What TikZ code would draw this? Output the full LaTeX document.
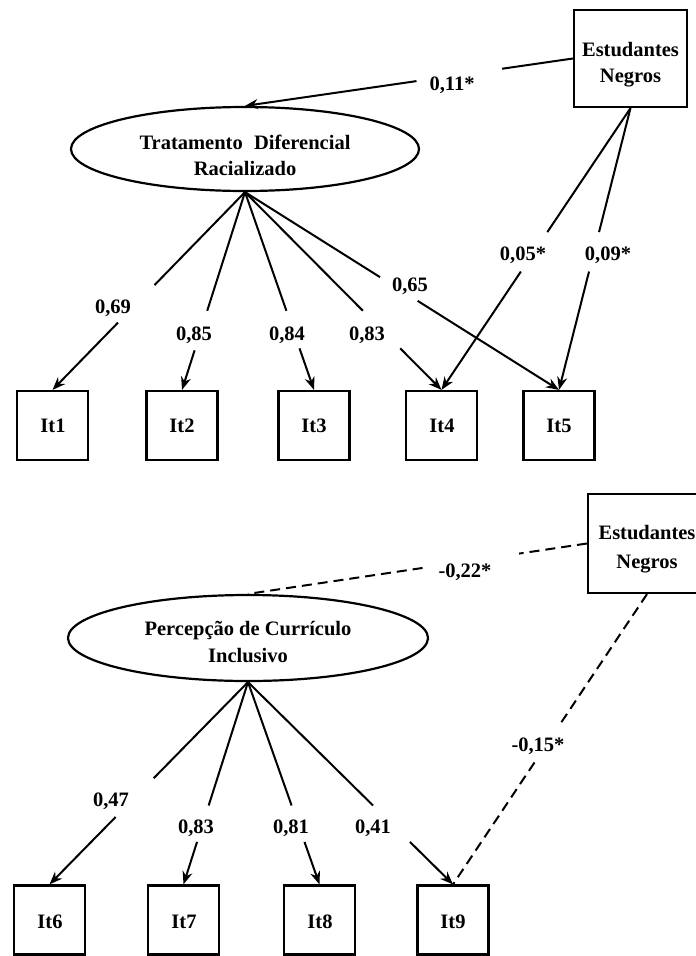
\documentclass[tikz,border=0pt]{standalone}
\usepackage{fontspec}
\setmainfont{Liberation Serif}
\usetikzlibrary{shapes.geometric,arrows.meta,calc}
\begin{document}
\begin{tikzpicture}[x=1pt,y=-1pt,
  font=\fontsize{20.5}{26}\selectfont\bfseries,
  obs/.style={draw,line width=2.2pt,rectangle,inner sep=0pt},
  item/.style={obs,minimum width=71pt,minimum height=69pt},
  latent/.style={draw,line width=2.2pt,ellipse,inner sep=0pt},
  lbl/.style={inner sep=0pt,text height=14pt,text depth=0pt},
  ln/.style={line width=2pt},
  arr/.style={line width=2pt,-{Stealth[length=13pt,width=10pt]}},
  dsh/.style={line width=2pt,dash pattern=on 10pt off 6pt}]
\useasboundingbox (0,0) rectangle (696,956);

% ---------- top model ----------
\node[obs,minimum width=113pt,minimum height=97pt] (en1) at (630.5,58.5) {};
\node[lbl] (en1a) at (630.5,49.5) {Estudantes};
\node[lbl] (en1b) at (630.5,75) {Negros};
\node[latent,minimum width=348pt,minimum height=84pt] (tdr) at (245,149) {};
\node[lbl] (tdra) at (245,142) {Tratamento\hspace{0.3em} Diferencial};
\node[lbl] (tdrb) at (245,168) {Racializado};

\node[item] (it1) at (52.5,425.5) {};
\node[item] (it2) at (182,425.5) {};
\node[item] (it3) at (314,425.5) {};
\node[item] (it4) at (441.5,425.5) {};
\node[item] (it5) at (559,425.5) {};
\node[lbl] (it1t) at (53,425) {It1};
\node[lbl] (it2t) at (182,425) {It2};
\node[lbl] (it3t) at (314,425) {It3};
\node[lbl] (it4t) at (442,425) {It4};
\node[lbl] (it5t) at (559,425) {It5};

% en1 -> tdr
\draw[ln] (en1.west) -- ($(en1.west)!0.216!(tdr.north)$);
\draw[arr] ($(en1.west)!0.477!(tdr.north)$) -- (tdr.north);
\node[lbl] (l011) at (452,83) {0,11*};

% loadings
\draw[ln] (tdr.south) -- ($(tdr.south)!0.47!(it1.north)$);
\draw[arr] ($(tdr.south)!0.66!(it1.north)$) -- (it1.north);
\draw[ln] (tdr.south) -- ($(tdr.south)!0.60!(it2.north)$);
\draw[arr] ($(tdr.south)!0.80!(it2.north)$) -- (it2.north);
\draw[ln] (tdr.south) -- ($(tdr.south)!0.60!(it3.north)$);
\draw[arr] ($(tdr.south)!0.79!(it3.north)$) -- (it3.north);
\draw[ln] (tdr.south) -- ($(tdr.south)!0.60!(it4.north)$);
\draw[arr] ($(tdr.south)!0.79!(it4.north)$) -- (it4.north);
\draw[ln] (tdr.south) -- ($(tdr.south)!0.43!(it5.north)$);
\draw[arr] ($(tdr.south)!0.55!(it5.north)$) -- (it5.north);
\node[lbl] (l069) at (113,306) {0,69};
\node[lbl] (l085) at (194,333) {0,85};
\node[lbl] (l084) at (287,333) {0,84};
\node[lbl] (l083) at (367,333) {0,83};
\node[lbl] (l065) at (410,284) {0,65};

% en1 -> items
\draw[ln] (en1.south) -- ($(en1.south)!0.44!(it4.north)$);
\draw[arr] ($(en1.south)!0.58!(it4.north)$) -- (it4.north);
\draw[ln] (en1.south) -- ($(en1.south)!0.44!(it5.north)$);
\draw[arr] ($(en1.south)!0.58!(it5.north)$) -- (it5.north);
\node[lbl] (l005) at (523,253) {0,05*};
\node[lbl] (l009) at (608,253) {0,09*};

% ---------- bottom model ----------
\node[obs,minimum width=118pt,minimum height=99pt] (en2) at (647,543.5) {};
\node[lbl] (en2a) at (647,532) {Estudantes};
\node[lbl] (en2b) at (647,561) {Negros};
\node[latent,minimum width=360pt,minimum height=86pt] (pci) at (248,638) {};
\node[lbl] (pcia) at (248,628.5) {Percepção de Currículo};
\node[lbl] (pcib) at (248,655) {Inclusivo};

\node[item] (it6) at (49.5,920) {};
\node[item] (it7) at (183.5,920) {};
\node[item] (it8) at (319.5,920) {};
\node[item] (it9) at (453,920) {};
\node[lbl] (it6t) at (50,921) {It6};
\node[lbl] (it7t) at (184,921) {It7};
\node[lbl] (it8t) at (320,921) {It8};
\node[lbl] (it9t) at (453,921) {It9};

\draw[dsh] (en2.west) -- ($(en2.west)!0.2!(pci.north)$);
\draw[dsh] ($(en2.west)!0.485!(pci.north)$) -- (pci.north);
\node[lbl] (l022) at (465,570) {-0,22*};

\draw[ln] (pci.south) -- ($(pci.south)!0.475!(it6.north)$);
\draw[arr] ($(pci.south)!0.667!(it6.north)$) -- (it6.north);
\draw[ln] (pci.south) -- ($(pci.south)!0.61!(it7.north)$);
\draw[arr] ($(pci.south)!0.79!(it7.north)$) -- (it7.north);
\draw[ln] (pci.south) -- ($(pci.south)!0.61!(it8.north)$);
\draw[arr] ($(pci.south)!0.79!(it8.north)$) -- (it8.north);
\draw[ln] (pci.south) -- ($(pci.south)!0.61!(it9.north)$);
\draw[arr] ($(pci.south)!0.79!(it9.north)$) -- (it9.north);
\node[lbl] (l047) at (111,799) {0,47};
\node[lbl] (l083b) at (196,826) {0,83};
\node[lbl] (l081) at (291,826) {0,81};
\node[lbl] (l041) at (373,826) {0,41};

\draw[dsh] (en2.south) -- ($(en2.south)!0.445!(it9.north)$);
\draw[dsh] ($(en2.south)!0.58!(it9.north)$) -- (it9.north);
\node[lbl] (l015) at (538,744) {-0,15*};
\end{tikzpicture}
\end{document}
